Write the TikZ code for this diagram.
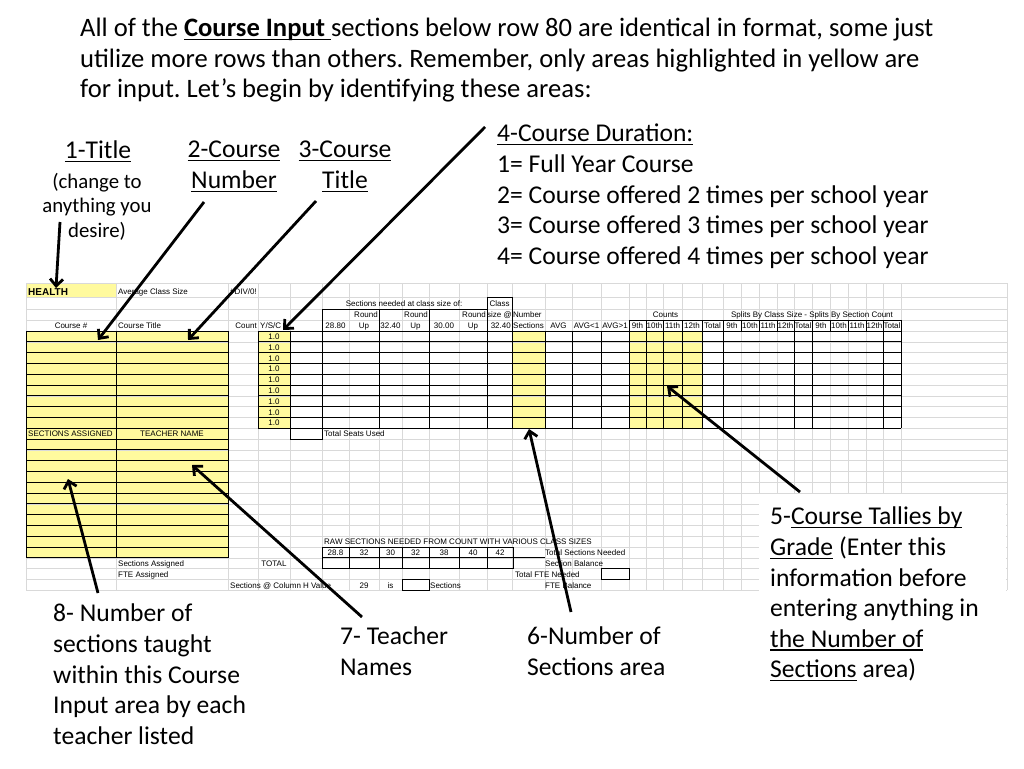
\documentclass[tikz,border=0pt]{standalone}
\usepackage{fontspec}
\setmainfont{Carlito}
\newfontfamily\sheetfont{Liberation Sans}
\usepackage{tikz}
\usetikzlibrary{arrows.meta}
\definecolor{inputyellow}{HTML}{FFFA9E}
\definecolor{gridgray}{HTML}{D9D9D9}
\newcommand\uln[1]{\setbox0\hbox{#1}\rlap{\rule[-3.4pt]{\wd0}{1.3pt}}\box0{}}
\frenchspacing

\begin{document}
\begin{tikzpicture}[
  x=1pt, y=-1pt,
  note/.style={font=\fontsize{25.6}{30.6}\selectfont, align=left, inner sep=0pt, anchor=north west},
  smallnote/.style={font=\fontsize{20.8}{24.5}\selectfont, align=center, inner sep=0pt, anchor=north},
  cell/.style={font=\sheetfont\fontsize{8}{9}\selectfont, inner sep=0pt, anchor=base},
  cellw/.style={cell, anchor=base west},
  celle/.style={cell, anchor=base east},
  sheetgrid/.style={draw=gridgray, line width=0.6pt},
  sheetline/.style={draw=black, line width=0.7pt},
  yellowcell/.style={fill=inputyellow},
  arrow/.style={-{Straight Barb[length=7pt,width=13pt]}, line width=2.8pt},
]
\useasboundingbox (0,0) rectangle (1024,768);
\fill[white] (0,0) rectangle (1024,768);

% spreadsheet: yellow input areas
\fill[yellowcell] (26,283) rectangle (116,297);
\fill[yellowcell] (26,331) rectangle (228,428.2);
\fill[yellowcell] (258,331) rectangle (290,428.2);
\fill[yellowcell] (512,331) rectangle (545,428.2);
\fill[yellowcell] (629,331) rectangle (702,428.2);
\fill[yellowcell] (26,428.2) rectangle (228,557.8);

% spreadsheet: grid
\foreach \x in {26,116,228,258,290,322,349,379,402,429,459,487,512,545,572,601,629,646,663,682,702,723,741,759,777,794,812,830,848,866,883,901,1007}
  \draw[sheetgrid] (\x,283) -- (\x,590.2);
\foreach \y in {283,297,309,320}
  \draw[sheetgrid] (26,\y) -- (1007,\y);
\foreach \k in {0,...,24}
  \draw[sheetgrid] (26,{331+10.8*\k}) -- (1007,{331+10.8*\k});

% spreadsheet: borders
\foreach \k in {0,...,9}
  \draw[sheetline] (26,{331+10.8*\k}) -- (228,{331+10.8*\k}) (258,{331+10.8*\k}) -- (901,{331+10.8*\k});
\foreach \x in {26,116,228,258,290,322,379,429,487,512,545,572,601,629,646,663,682,702,723,794,812,883,901}
  \draw[sheetline] (\x,331) -- (\x,428.2);
\draw[sheetline] (322,331) -- (322,309) -- (487,309);
\draw[sheetline] (379,309) -- (379,331) (429,309) -- (429,331);
\draw[sheetline] (487,331) -- (487,297) -- (512,297) -- (512,331);
\draw[sheetline] (629,331) -- (629,320) -- (901,320) -- (901,331);
\foreach \x in {646,663,682,702,723,741,759,777,794,812,830,848,866,883}
  \draw[sheetline] (\x,320) -- (\x,331);
\foreach \k in {0,...,12}
  \draw[sheetline] (26,{428.2+10.8*\k}) -- (228,{428.2+10.8*\k});
\foreach \x in {26,116,228}
  \draw[sheetline] (\x,428.2) -- (\x,557.8);
\draw[sheetline] (290,428.2) rectangle (322,439);
\draw[sheetline] (322,547) rectangle (513,568.6);
\foreach \x in {349,379,402,429,459,487}
  \draw[sheetline] (\x,547) -- (\x,568.6);
\draw[sheetline] (322,557.8) -- (545,557.8);
\draw[sheetline] (601,568.6) rectangle (629,579.4);
\draw[sheetline] (402,579.4) rectangle (429,590.2);

% spreadsheet: texts
\node[cellw, font=\sheetfont\bfseries\fontsize{10}{11}\selectfont] (health) at (28,295) {HEALTH};
\node[cellw] (avgsize) at (118,294) {Average Class Size};
\node[cellw] (divzero) at (230,294) {\#DIV/0!};
\node[cell] (needed) at (404,306.5) {Sections needed at class size of:};
\node[cell] (classhd) at (499.5,306.5) {Class};
\node[celle] (round1) at (378,317.5) {Round};
\node[celle] (round2) at (428,317.5) {Round};
\node[celle] (round3) at (486,317.5) {Round};
\node[cell] (sizeat) at (499.5,317.5) {size @};
\node[cellw] (numberhd) at (513,317.5) {Number};
\node[cell] (counts) at (665.5,317.5) {Counts};
\node[cell] (splits) at (812,317.5) {Splits By Class Size - Splits By Section Count};
\node[cell] (coursenum) at (71,328.5) {Course \#};
\node[cellw] (coursetitle) at (118,328.5) {Course Title};
\node[celle] (count) at (257,328.5) {Count};
\node[cellw] (ysc) at (260,328.5) {Y/S/C};
\node[cell] (size1) at (335.5,328.5) {28.80};
\node[cell] (up1) at (364,328.5) {Up};
\node[cell] (size2) at (390.5,328.5) {32.40};
\node[cell] (up2) at (415.5,328.5) {Up};
\node[cell] (size3) at (444,328.5) {30.00};
\node[cell] (up3) at (473,328.5) {Up};
\node[celle] (size4) at (511,328.5) {32.40};
\node[cellw] (sectionshd) at (513,328.5) {Sections};
\node[cell] (avg) at (558.5,328.5) {AVG};
\node[cell] (avglow) at (586.5,328.5) {AVG<1};
\node[cell] (avghigh) at (615,328.5) {AVG>1};
\foreach \x/\g [count=\i] in {637.5/9th,654.5/10th,672.5/11th,692/12th,712.5/Total,732/9th,750/10th,768/11th,785.5/12th,803/Total,821/9th,839/10th,857/11th,874.5/12th,892/Total}
  \node[cell] (grade\i) at (\x,328.5) {\g};
\foreach \k in {0,...,8}
  \node[cell] (dur\k) at (274,{339.5+10.8*\k}) {1.0};
\node[cellw] (secassigned) at (28,436.5) {SECTIONS ASSIGNED};
\node[cell] (teachername) at (172,436.5) {TEACHER NAME};
\node[cellw] (seatsused) at (324,436.5) {Total Seats Used};
\node[cellw] (rawhd) at (324,544.5) {RAW SECTIONS NEEDED FROM COUNT WITH VARIOUS CLASS SIZES};
\foreach \x/\v [count=\i] in {335.5/28.8,364/32,390.5/30,415.5/32,444/38,473/40,500/42}
  \node[cell] (raw\i) at (\x,555.3) {\v};
\node[cellw] (totneeded) at (545,555.3) {Total Sections Needed};
\node[cellw] (assignedlbl) at (118,566) {Sections Assigned};
\node[cell] (totallbl) at (274,566) {TOTAL};
\node[cellw] (secbalance) at (545,566) {Section Balance};
\node[cellw] (fteassigned) at (118,577) {FTE Assigned};
\node[cellw] (fteneeded) at (515,577) {Total FTE Needed};
\node[cellw] (colh) at (230,588) {Sections @ Column H Value};
\node[cell] (colhval) at (364,588) {29};
\node[cell] (colhis) at (390.5,588) {is};
\node[cellw] (colhsec) at (430,588) {Sections};
\node[cellw] (ftebalance) at (545,588) {FTE Balance};

% annotations
\node[note, font=\fontsize{26.6}{30.5}\selectfont] (intro) at (80,18)
  {All of the \uln{\textbf{Course Input}\ }sections below row 80 are identical in format, some just\\
   utilize more rows than others. Remember, only areas highlighted in yellow are\\
   for input. Let’s begin by identifying these areas:};
\node[note, anchor=north] (titlehead) at (98,141) {\uln{1-Title}};
\node[smallnote] (titlenote) at (97,173) {(change to\\anything you\\desire)};
\node[note, anchor=north, align=center] (numhead) at (234,141) {\uln{2-Course}\\\uln{Number}};
\node[note, anchor=north, align=center] (namehead) at (345,141) {\uln{3-Course}\\\uln{Title}};
\node[note] (durnote) at (497,124)
  {\uln{4-Course Duration:}\\1= Full Year Course\\2= Course offered 2 times per school year\\
   3= Course offered 3 times per school year\\4= Course offered 4 times per school year};
\fill[white] (759,494) rectangle (1006,600);
\node[note] (tallynote) at (770,507)
  {5-\uln{Course Tallies by}\\\uln{Grade} (Enter this\\information before\\entering anything in\\
   \uln{the Number of}\\\uln{Sections} area)};
\node[note] (secnote) at (527,627) {6-Number of\\Sections area};
\node[note] (teachnote) at (340,627) {7- Teacher\\Names};
\node[note] (assignnote) at (53,604) {8- Number of\\sections taught\\within this Course\\Input area by each\\teacher listed};

% arrow ends
\coordinate (titlefrom) at (60,222);   \coordinate (titleto) at (56,288);
\coordinate (numfrom) at (204,202);    \coordinate (numto) at (98,340);
\coordinate (namefrom) at (316,201);   \coordinate (nameto) at (188,340);
\coordinate (durfrom) at (485,127);    \coordinate (durto) at (283,330);
\coordinate (tallyfrom) at (800,492);  \coordinate (tallyto) at (667,386);
\coordinate (secfrom) at (571,612);    \coordinate (secto) at (529,429);
\coordinate (teachfrom) at (362,617);  \coordinate (teachto) at (192,465);
\coordinate (assignfrom) at (98,593);  \coordinate (assignto) at (68,479);

\draw[arrow] (titlefrom) -- (titleto);
\draw[arrow] (numfrom) -- (numto);
\draw[arrow] (namefrom) -- (nameto);
\draw[arrow] (durfrom) -- (durto);
\draw[arrow] (tallyfrom) -- (tallyto);
\draw[arrow] (secfrom) -- (secto);
\draw[arrow] (teachfrom) -- (teachto);
\draw[arrow] (assignfrom) -- (assignto);

\end{tikzpicture}
\end{document}
